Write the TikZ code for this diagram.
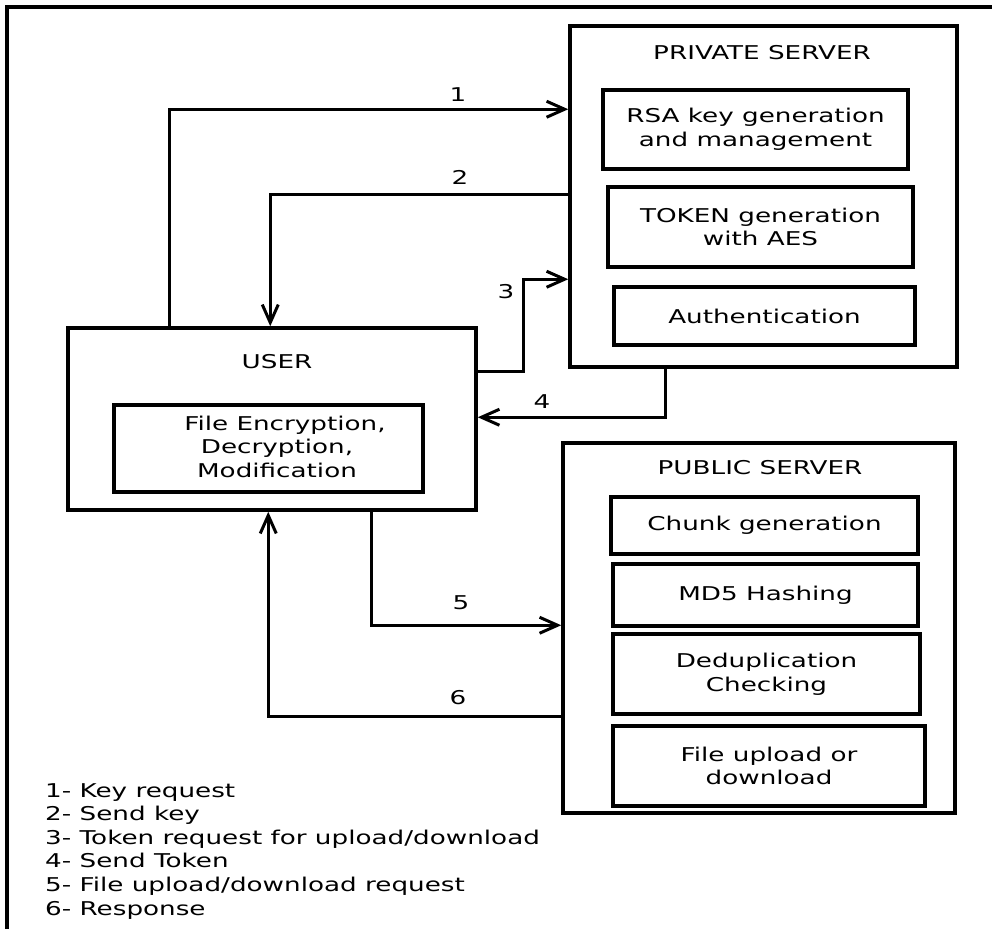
\documentclass[tikz,border=0pt]{standalone}
\usepackage{fontspec}
\setmainfont{DejaVu Sans}[FakeStretch=1.38]
\usetikzlibrary{arrows.meta}
\newcommand\fs{\fontsize{19}{23.5}\selectfont}
\begin{document}
\begin{tikzpicture}[x=1pt,y=-1pt,
  box/.style={draw, line width=3.5pt, inner sep=0pt, align=center, font=\fs},
  conn/.style={line width=3pt, -{Straight Barb[length=18pt,width=16pt]}},
  lbl/.style={font=\fs, inner sep=0pt, align=center},
  leg/.style={font=\fs, inner sep=0pt, anchor=base west}]
\useasboundingbox (0,0) rectangle (992,928);
\fill[white] (0,0) rectangle (992,928);
% outer frame (right and bottom edges lie outside the picture)
\draw[line width=3.5pt] (7,7) rectangle (1010,950);

% private server
\node[box, minimum width=387pt, minimum height=341pt] (priv) at (763.5,196.5) {};
\node[lbl] (privt) at (762,53) {PRIVATE SERVER};
\node[box, minimum width=305pt, minimum height=79pt] (rsa) at (755.5,129.5) {RSA key generation\\and management};
\node[box, minimum width=305pt, minimum height=80pt] (tok) at (760.5,227) {TOKEN generation\\with AES};
\node[box, minimum width=301pt, minimum height=58pt] (auth) at (764.5,316) {Authentication};

% user
\node[box, minimum width=408pt, minimum height=182pt] (user) at (272,419) {};
\node[lbl] (usert) at (277,362) {USER};
\node[box, minimum width=309pt, minimum height=87pt] (fed) at (268.5,448.5) {};
\node[lbl] (fedt) at (277,446.5) {\hspace*{16pt}File Encryption,\\Decryption,\\Modification};

% public server
\node[box, minimum width=392pt, minimum height=370pt] (pub) at (759,628) {};
\node[lbl] (pubt) at (760,468) {PUBLIC SERVER};
\node[box, minimum width=307pt, minimum height=57pt] (chunk) at (764.5,525.5) {Chunk generation};
\node[box, minimum width=305pt, minimum height=62pt] (md5) at (765.5,595) {MD5 Hashing};
\node[box, minimum width=307pt, minimum height=80pt] (dedup) at (766.5,674) {Deduplication\\Checking};
\node[box, minimum width=312pt, minimum height=80pt] (file) at (769,766) {File upload or\\download};

% connectors
\coordinate (b3) at (523,281);
\coordinate (p3) at ([yshift=-255pt]priv.north west);
\draw[conn] ([xshift=103pt]user.north west) |- ([yshift=-85pt]priv.north west);
\draw[conn] ([yshift=-170pt]priv.north west) -| ([xshift=204pt]user.north west);
\draw[conn] ([yshift=-45pt]user.north east) -| (b3 |- p3) -- (p3);
\draw[conn] ([xshift=97pt]priv.south west) |- ([yshift=-91pt]user.north east);
\draw[conn] ([xshift=305pt]user.south west) |- ([yshift=-184pt]pub.north west);
\draw[conn] ([yshift=-275pt]pub.north west) -| ([xshift=202pt]user.south west);

% connector labels
\node[lbl] (n1) at (458,95) {1};
\node[lbl] (n2) at (460,177) {2};
\node[lbl] (n3) at (506,292) {3};
\node[lbl] (n4) at (542,402) {4};
\node[lbl] (n5) at (461,603) {5};
\node[lbl] (n6) at (458,698) {6};

% legend
\node[leg] (l1) at (45,797) {1- Key request};
\node[leg] (l2) at (45,820.6) {2- Send key};
\node[leg] (l3) at (45,844.2) {3- Token request for upload/download};
\node[leg] (l4) at (45,867.8) {4- Send Token};
\node[leg] (l5) at (45,891.4) {5- File upload/download request};
\node[leg] (l6) at (45,915) {6- Response};
\end{tikzpicture}
\end{document}
